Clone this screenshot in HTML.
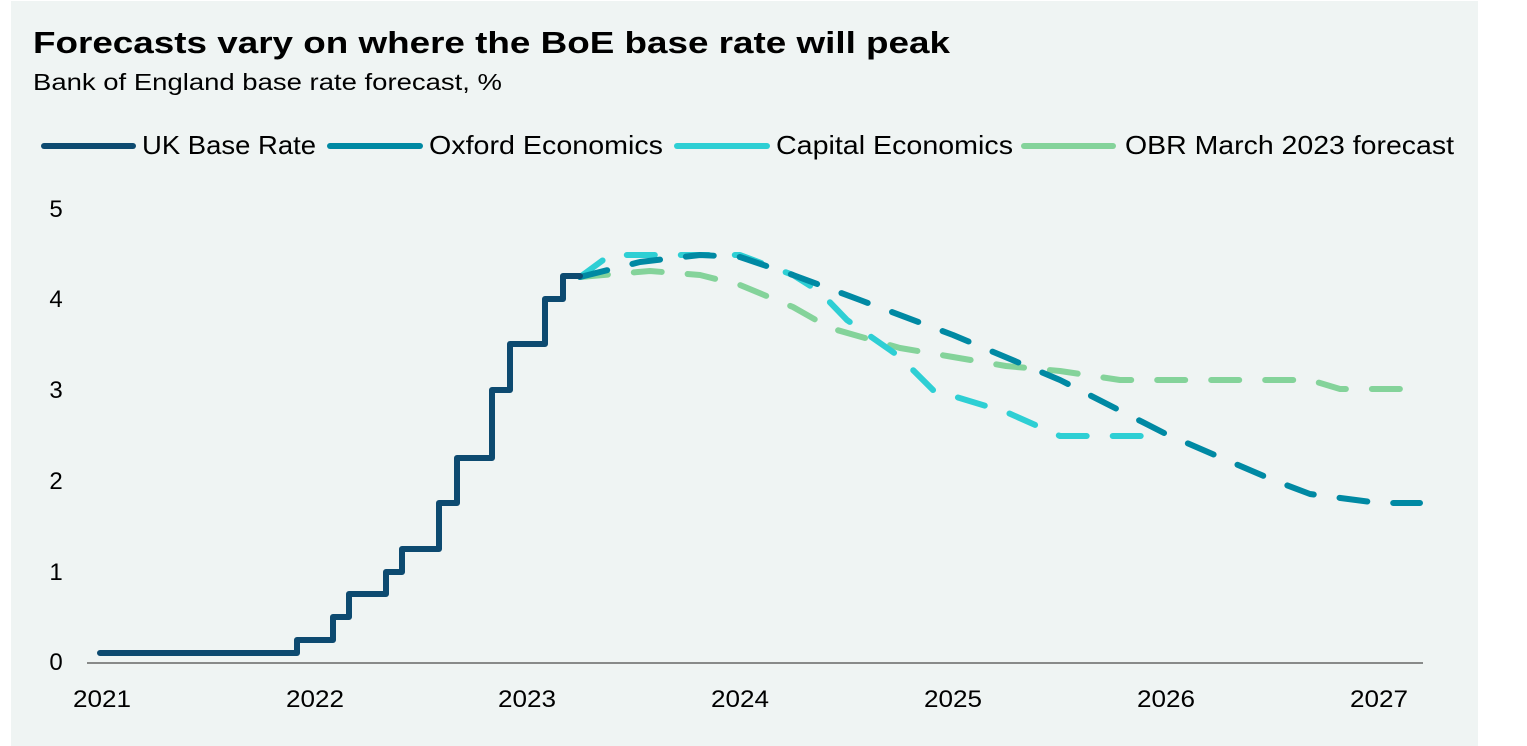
<!DOCTYPE html>
<html><head><style>
body{margin:0;background:#fff;}
svg{display:block;font-family:"Liberation Sans",sans-serif;}
</style></head><body>
<svg width="1527" height="746" xmlns="http://www.w3.org/2000/svg">
<rect x="11" y="1" width="1467" height="745" fill="#eff4f3"/>
<text x="33" y="53" font-size="31" font-weight="bold" fill="#000" textLength="917" lengthAdjust="spacingAndGlyphs">Forecasts vary on where the BoE base rate will peak</text>
<text x="33" y="90" font-size="23" fill="#000" textLength="469" lengthAdjust="spacingAndGlyphs">Bank of England base rate forecast, %</text>
<g stroke-width="6" stroke-linecap="round">
<line x1="44" y1="146" x2="133" y2="146" stroke="#0d4a70"/>
<line x1="330" y1="146" x2="420" y2="146" stroke="#0089a3"/>
<line x1="677" y1="146" x2="767" y2="146" stroke="#2ecfd4"/>
<line x1="1024" y1="146" x2="1113" y2="146" stroke="#84d39a"/>
</g>
<g font-size="26" fill="#000" lengthAdjust="spacingAndGlyphs">
<text x="142" y="154" textLength="174" lengthAdjust="spacingAndGlyphs">UK Base Rate</text>
<text x="429" y="154" textLength="234" lengthAdjust="spacingAndGlyphs">Oxford Economics</text>
<text x="776" y="154" textLength="237" lengthAdjust="spacingAndGlyphs">Capital Economics</text>
<text x="1125" y="154" textLength="329" lengthAdjust="spacingAndGlyphs">OBR March 2023 forecast</text>
</g>
<g font-size="24" fill="#000" text-anchor="middle">
<text x="56" y="217">5</text><text x="56" y="307">4</text><text x="56" y="398">3</text>
<text x="56" y="489">2</text><text x="56" y="580">1</text><text x="56" y="670">0</text>
</g>
<g font-size="24" fill="#000">
<text x="73" y="707" textLength="58" lengthAdjust="spacingAndGlyphs">2021</text>
<text x="286" y="707" textLength="58" lengthAdjust="spacingAndGlyphs">2022</text>
<text x="498" y="707" textLength="58" lengthAdjust="spacingAndGlyphs">2023</text>
<text x="711" y="707" textLength="58" lengthAdjust="spacingAndGlyphs">2024</text>
<text x="924" y="707" textLength="58" lengthAdjust="spacingAndGlyphs">2025</text>
<text x="1137" y="707" textLength="58" lengthAdjust="spacingAndGlyphs">2026</text>
<text x="1350" y="707" textLength="58" lengthAdjust="spacingAndGlyphs">2027</text>
</g>
<line x1="87" y1="663" x2="1423" y2="663" stroke="#666" stroke-width="1.5"/>
<g fill="none" stroke-width="6" stroke-linecap="round" stroke-linejoin="round">
<polyline stroke="#84d39a" stroke-dasharray="28 26" points="580,277 650,271 700,275 740,285 793,307 830,328 900,348 953,357 1006,366 1060,371 1120,380 1310,380 1340,389 1410,389"/>
<polyline stroke="#2ecfd4" stroke-dasharray="28 26" points="580,277 610,255 740,255 793,275 820,292 847,320 900,357 933,390 1006,412 1060,436 1148,436"/>
<polyline stroke="#0089a3" stroke-dasharray="28 26" points="580,277 640,262 700,255 740,257 793,275 860,300 953,335 1060,380 1166,434 1273,480 1310,494 1379,503 1420,503"/>
<polyline stroke="#0d4a70" points="100,653 297,653 297,640 333,640 333,617 349,617 349,594 386,594 386,572 402,572 402,549 439,549 439,503 457,503 457,458 492,458 492,390 510,390 510,344 545,344 545,299 563,299 563,276 580,276"/>
</g>
</svg>
</body></html>
